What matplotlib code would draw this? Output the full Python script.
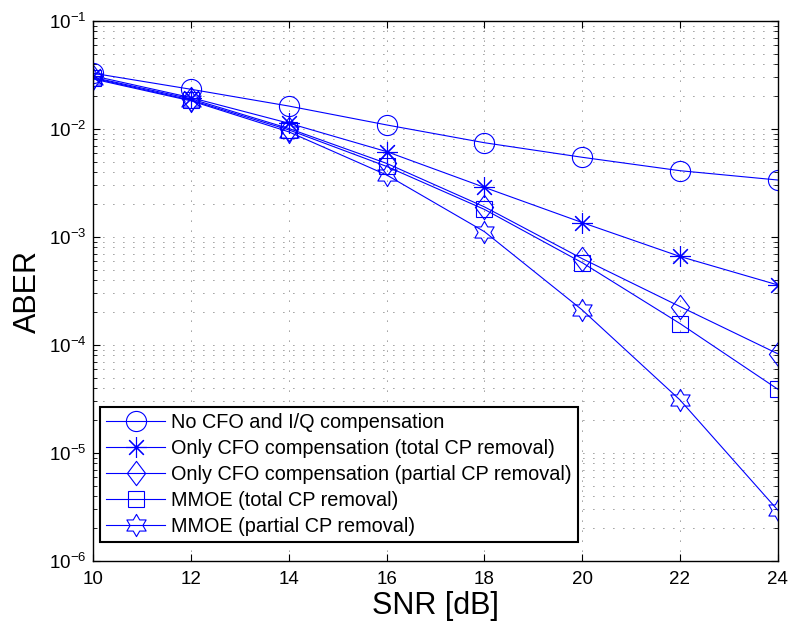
import matplotlib
matplotlib.use("Agg")
import matplotlib.pyplot as plt
import numpy as np
from matplotlib.path import Path
from matplotlib.ticker import LogLocator, NullFormatter

plt.rcParams['font.family'] = ['Liberation Sans', 'DejaVu Sans']
plt.rcParams['mathtext.fontset'] = 'custom'
plt.rcParams['mathtext.rm'] = 'Liberation Sans'
plt.rcParams['mathtext.default'] = 'regular'

# data (SNR in dB, ABER)
snr = [10, 12, 14, 16, 18, 20, 22, 24]
no_comp = [0.0328, 0.0233, 0.0163, 0.0109, 0.00746, 0.00547, 0.00411, 0.00337]
cfo_total = [0.031, 0.0195, 0.0113, 0.00617, 0.00288, 0.00136, 0.00066, 0.00036]
cfo_partial = [0.030, 0.0190, 0.0101, 0.0048, 0.0019, 0.00063, 0.000227, 8.3e-5]
mmoe_total = [0.0295, 0.0185, 0.0098, 0.0045, 0.0018, 0.000578, 0.000158, 3.9e-5]
mmoe_partial = [0.029, 0.0182, 0.0094, 0.00375, 0.00112, 0.000211, 3.1e-5, 2.96e-6]

labels = ["No CFO and I/Q compensation",
          "Only CFO compensation (total CP removal)",
          "Only CFO compensation (partial CP removal)",
          "MMOE (total CP removal)",
          "MMOE (partial CP removal)"]

# MATLAB-style marker shapes
diamond = Path([(0, 1), (0.75, 0), (0, -1), (-0.75, 0), (0, 1)],
               [Path.MOVETO, Path.LINETO, Path.LINETO, Path.LINETO, Path.CLOSEPOLY])
ang = np.deg2rad(90 + 30 * np.arange(12))
rad = np.where(np.arange(12) % 2 == 0, 1.0, 1 / np.sqrt(3))
hex_verts = list(zip(rad * np.cos(ang), rad * np.sin(ang)))
hexagram = Path(hex_verts + [hex_verts[0]],
                [Path.MOVETO] + [Path.LINETO] * 11 + [Path.CLOSEPOLY])

series = [
    (no_comp, 'o', 14.5),
    (cfo_total, (8, 2, 0), 15),
    (cfo_partial, diamond, 17.5),
    (mmoe_total, 's', 11.5),
    (mmoe_partial, hexagram, 16),
]

fig = plt.figure(figsize=(7.92, 6.21), dpi=100)
ax = fig.add_axes([0.118, 0.0966, 0.864, 0.8696])

for (vals, mk, ms), lab in zip(series, labels):
    ax.semilogy(snr, vals, color='blue', lw=0.8, marker=mk, markersize=ms,
                markerfacecolor='none', markeredgecolor='blue', markeredgewidth=0.8,
                label=lab)

ax.set_xlim(10, 24)
ax.set_ylim(1e-6, 1e-1)
ax.set_xticks(snr)
ax.yaxis.set_major_locator(LogLocator(base=10, numticks=10))
ax.yaxis.set_minor_locator(LogLocator(base=10, subs=np.arange(2, 10), numticks=20))
ax.yaxis.set_minor_formatter(NullFormatter())

ax.grid(True, which='major', linestyle=(0, (1, 11)), color='0.2', lw=0.6)
ax.grid(True, which='minor', axis='y', linestyle=(0, (1, 11)), color='0.2', lw=0.6)

ax.tick_params(which='both', direction='in', top=True, right=True, labelsize=13.5)
ax.tick_params(axis='x', pad=7)
ax.tick_params(axis='y', pad=5)
ax.tick_params(which='major', length=5)
ax.tick_params(which='minor', length=3)
for s in ax.spines.values():
    s.set_linewidth(1.0)

ax.set_xlabel("SNR [dB]", fontsize=22, labelpad=2)
ax.set_ylabel("ABER", fontsize=22, labelpad=4)

leg = ax.legend(loc='lower left', bbox_to_anchor=(0.0095, 0.035), borderaxespad=0,
                fontsize=14.3, handlelength=3.0, handletextpad=0.3, labelspacing=0.35,
                borderpad=0.3, fancybox=False, framealpha=1, edgecolor='black')
leg.get_frame().set_linewidth(1.5)

fig.savefig("out.png", dpi=100)
